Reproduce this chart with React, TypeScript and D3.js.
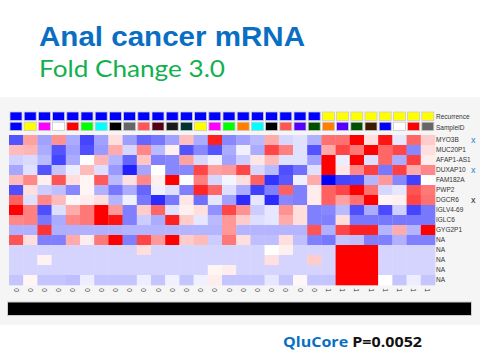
import React from "react";
import * as d3 from "d3";

const genes = ["MYO3B","MUC20P1","AFAP1-AS1","DUXAP10","FAM182A","PWP2","DGCR6","IGLV4-69","IGLC6","GYG2P1","NA","NA","NA","NA","NA"];
const recurrence = [0,0,0,0,0,0,0,0,0,0,0,0,0,0,0,0,0,0,0,0,0,0,1,1,1,1,1,1,1,1];
const sampleIdColors = ["#0000ff","#ffff00","#ff00ff","#ffffff","#ff0000","#00ff00","#00ffff","#000000","#666666","#ff5555","#550015","#1a1a1a","#003333","#ffff00","#ff00ff","#00ff00","#ff8000","#00ffff","#000000","#ff5555","#5500ff","#005000","#ff8000","#5500ff","#005000","#3d1a00","#0000ff","#ffffff","#ff0000","#666666"];
const marks = [{ gene: 0, text: "x", color: "#2f7fd0" }, { gene: 3, text: "x", color: "#2f7fd0" }, { gene: 6, text: "x", color: "#222" }];

const rowMYO3B = [-0.67,0.37,-0.37,0.43,-0.33,-0.73,-0.37,0.13,-0.38,-0.6,-0.53,-0.37,0.25,-0.33,0.87,-0.47,-0.37,-0.27,0.33,-0.16,-0.12,-0.31,0.56,0.56,1,0.13,0.92,-0.1,0.6,0.2];
const rowMUC20P1 = [0.27,0.29,-0.33,-0.67,-0.37,-0.69,-0.4,0.33,-0.16,0.47,-0.27,0.06,-0.67,-0.47,-0.67,-0.33,-0.06,-0.33,0.73,0.5,-0.12,-0.67,0.33,0.73,0.53,1,0.6,0.73,-0.47,0.13];
const rowAFAP1 = [-0.18,-0.15,-0.27,-0.73,-0.33,0,0.29,-0.29,-0.6,0.23,-0.5,-0.47,0.37,-0.16,-0.06,-0.37,-0.2,0.1,0.27,-0.12,-0.12,-0.37,1,-0.07,1,-0.13,0.6,-0.33,0.75,0.07];
const rowDUXAP10 = [-0.35,-0.12,-0.67,-0.23,-0.07,0.27,-0.13,-0.4,-0.87,-0.35,0,-0.47,-0.47,0.73,0.37,0.4,0.73,-0.16,-0.27,-0.69,-0.56,-0.12,1,0.1,0.47,0.75,-0.53,0.75,0.33,0.47];
const rowFAM182A = [0.27,0.47,0.06,0.67,0.13,0.04,0.65,-0.27,0.12,0.47,0.06,1,0,0.5,-0.16,-0.04,0.13,0.62,-0.8,-0.65,-0.06,0.33,-1,-0.73,-0.71,-0.29,0.4,-0.47,-0.75,0];
const rowPWP2 = [-0.69,0.13,-0.2,-0.25,-0.47,0.04,-0.31,-0.53,-0.33,-0.6,-0.06,-0.13,-0.5,0.85,0.6,-0.13,-0.33,-0.75,-0.5,0.62,-0.5,0.07,0.62,0.73,1,0.56,-0.16,-0.1,0.67,0.53];
const rowDGCR6 = [0.62,-0.13,0.47,0.27,0.03,0.07,0.13,-0.29,-0.06,-0.53,-0.83,-0.53,0.1,-0.56,-0.1,-0.37,-0.83,-0.1,-0.83,-0.47,-0.5,0.07,0.62,0.37,0.56,1,0.04,0.06,0.73,0.56];
const rowIGLV469 = [1,0.5,-0.69,-0.13,0.33,0.53,1,0.4,-0.5,0.2,0.6,-0.12,0.06,0.13,-0.43,0.73,0.43,-0.2,-0.1,0.43,0.13,-0.5,-0.47,-0.27,-0.69,-0.33,-0.71,-0.18,-0.73,-0.53];
const rowIGLC6 = [0.47,0.5,-0.53,-0.33,0.47,0.53,1,0.92,-0.5,-0.2,-0.33,0.87,0.2,-0.1,-0.27,0.4,0.2,-0.13,-0.1,0.33,0.13,-0.5,-0.5,0.13,-0.53,-0.53,-0.53,-0.53,-0.53,-0.53];
const rowGYG2P1 = [-0.31,-0.31,0.8,-0.31,-0.31,-0.31,-0.31,-0.31,-0.29,-0.29,-0.29,-0.29,-0.29,-0.29,-0.29,0.4,-0.29,-0.29,-0.29,-0.29,-0.29,0.67,-0.31,0.73,0.87,0.87,-0.29,0.33,-0.29,1];
const rowNA1 = [0.67,0.13,-0.5,-0.5,0.33,0.07,0.53,1,-0.5,0.73,0.4,1,0.2,0.27,-0.2,0.53,0.13,-0.25,-0.25,0.13,-0.25,-0.5,-0.53,-0.23,-0.25,-0.5,-0.5,-0.31,-0.5,-0.5];
const rowNA2 = [-0.17,-0.17,-0.17,-0.17,-0.17,-0.17,-0.17,-0.17,-0.17,0.13,-0.17,-0.17,-0.17,-0.17,-0.17,-0.17,-0.17,-0.17,0,0.06,-0.17,-0.17,-0.17,1,1,1,-0.17,-0.17,-0.17,-0.17];
const rowNA3 = [-0.17,-0.17,0.05,-0.17,-0.17,-0.17,-0.17,-0.17,-0.17,-0.17,-0.17,-0.17,-0.17,-0.17,-0.17,-0.17,-0.17,-0.17,0.12,-0.17,-0.17,0.2,-0.17,1,1,1,-0.17,-0.17,-0.17,-0.17];
const rowNA4 = [-0.17,-0.17,-0.17,-0.17,-0.17,-0.17,-0.17,-0.17,-0.17,-0.17,-0.17,-0.17,-0.17,-0.17,0.04,0.07,-0.17,-0.17,-0.17,-0.17,-0.17,-0.17,-0.17,1,1,1,-0.17,-0.17,-0.17,-0.17];
const rowNA5 = [-0.23,0.04,-0.23,-0.23,-0.25,-0.07,-0.23,-0.23,-0.23,-0.07,-0.23,-0.06,-0.23,-0.06,0.07,-0.23,-0.23,-0.23,-0.1,-0.23,0.03,-0.23,-0.23,1,1,1,0,-0.23,-0.07,-0.23];

const matrix = [rowMYO3B, rowMUC20P1, rowAFAP1, rowDUXAP10, rowFAM182A, rowPWP2, rowDGCR6, rowIGLV469, rowIGLC6, rowGYG2P1, rowNA1, rowNA2, rowNA3, rowNA4, rowNA5];

export default function App() {
  const nCol = recurrence.length;
  const x = d3.scaleBand<number>().domain(d3.range(nCol)).range([9, 435]).padding(0);
  const y = d3.scaleBand<number>().domain(d3.range(genes.length)).range([135, 285]).padding(0);
  const color = d3.scaleLinear<string>().domain([-1, 0, 1]).range(["#0000ff", "#ffffff", "#ff0000"]).clamp(true);
  const recColor = (r: number) => (r === 0 ? "#0000ff" : "#ffff00");
  const bw = x.bandwidth();
  const labelFont = "'Liberation Sans', Arial, sans-serif";

  return (
    <svg width={480} height={360} style={{ position: "absolute", left: 0, top: 0, background: "#fff" }}>
      <rect x={0} y={0} width={480} height={360} fill="#ffffff" />
      <text x={39} y={45.5} fontFamily="'Liberation Sans', Arial, sans-serif" fontWeight="bold" fontSize={28.5} fill="#0a6fc2" textLength={266} lengthAdjust="spacingAndGlyphs">Anal cancer mRNA</text>
      <text x={39} y={77} fontFamily="Lato, 'Open Sans', sans-serif" fontSize={23} fill="#12b04f" textLength={186} lengthAdjust="spacingAndGlyphs">Fold Change 3.0</text>

      <rect x={0} y={97} width={480} height={228} fill="#f5f5f5" />

      {recurrence.map((r, i) => (
        <rect key={"r" + i} x={(x(i) as number) + 1} y={112} width={bw - 2.2} height={8.4} fill={recColor(r)} stroke="#c8c8d8" strokeWidth={0.8} />
      ))}
      {sampleIdColors.map((c, i) => (
        <rect key={"s" + i} x={(x(i) as number) + 1} y={122.2} width={bw - 2.2} height={8.4} fill={c} stroke="#c8c8c8" strokeWidth={0.8} />
      ))}

      {matrix.map((row, ri) =>
        row.map((v, ci) => (
          <rect key={ri + "-" + ci} x={x(ci) as number} y={y(ri) as number} width={bw + 0.3} height={y.bandwidth() + 0.3} fill={color(v)} />
        ))
      )}

      <text x={436} y={119} fontFamily={labelFont} fontSize={6.5} fill="#333">Recurrence</text>
      <text x={436} y={129.5} fontFamily={labelFont} fontSize={6.5} fill="#333">SampleID</text>
      {genes.map((g, i) => (
        <text key={"g" + i} x={436} y={(y(i) as number) + y.bandwidth() / 2 + 2.4} fontFamily={labelFont} fontSize={6.5} fill="#333">{g}</text>
      ))}
      {marks.map((m, i) => (
        <text key={"m" + i} x={471} y={(y(m.gene) as number) + y.bandwidth() / 2 + 3} fontFamily={labelFont} fontSize={9} fill={m.color}>{m.text}</text>
      ))}

      {recurrence.map((r, i) => {
        const cx = (x(i) as number) + bw / 2;
        return (
          <text key={"b" + i} transform={`translate(${cx},${290}) rotate(90)`} textAnchor="middle" dominantBaseline="central" fontFamily={labelFont} fontSize={6.5} fill="#333">{String(r)}</text>
        );
      })}

      <rect x={7.5} y={302} width={464} height={13.5} fill="#000" stroke="#cccccc" strokeWidth={1} />

      <text x={283} y={347} fontFamily="'Open Sans', sans-serif" fontWeight="bold" fontSize={15} textLength={139} lengthAdjust="spacingAndGlyphs">
        <tspan fill="#0a6fc2">QluCore</tspan>
        <tspan fill="#111"> P=0.0052</tspan>
      </text>
    </svg>
  );
}
